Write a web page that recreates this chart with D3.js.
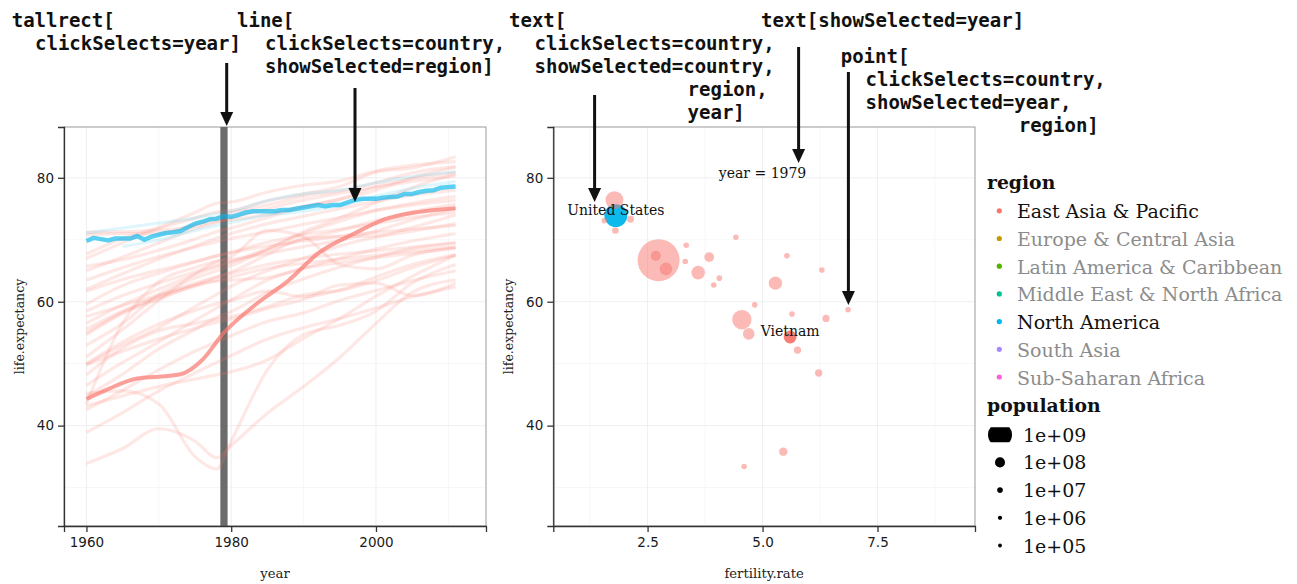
<!DOCTYPE html>
<html>
<head>
<meta charset="utf-8">
<script src="https://cdn.jsdelivr.net/npm/d3@7"></script>
<style>
body { margin: 0; background: #fff; }
svg { display: block; }
</style>
</head>
<body>
<script>
// ---- data ----
var regions = ["East Asia & Pacific", "Europe & Central Asia", "Latin America & Caribbean",
  "Middle East & North Africa", "North America", "South Asia", "Sub-Saharan Africa"];
var regionColors = ["#F8766D", "#C49A00", "#53B400", "#00C094", "#00B6EB", "#A58AFF", "#FB61D7"];
var selectedRegions = ["East Asia & Pacific", "North America"];

var yearTicks = [1960, 1980, 2000];
var yearMinor = [1970, 1990, 2010];
var lifeTicks = [40, 60, 80];
var lifeMinor = [30, 50, 70];
var fertTicks = [2.5, 5.0, 7.5];
var fertMinor = [1.25, 3.75, 6.25, 8.75];
var popBreaks = [1e9, 1e8, 1e7, 1e6, 1e5];
var popLabels = ["1e+09", "1e+08", "1e+07", "1e+06", "1e+05"];

var selectedYear = 1979;

// background lines, life expectancy at sampled years
var sampleYears = [1960, 1965, 1970, 1975, 1978, 1980, 1985, 1990, 1995, 2000, 2005, 2011];
var lineCountries = ["Hong Kong", "Japan", "Australia", "New Zealand", "Macao", "Singapore",
  "Korea, Rep.", "Brunei", "Guam", "New Caledonia", "French Polynesia", "China", "Malaysia",
  "Thailand", "Samoa", "Tonga", "Fiji", "Vanuatu", "Indonesia", "Philippines", "Mongolia",
  "Micronesia", "Solomon Islands", "Kiribati", "Myanmar", "Lao PDR", "Papua New Guinea",
  "Korea, Dem. Rep.", "Cambodia", "Timor-Leste", "Canada", "Bermuda"];
var lineRegions = lineCountries.map(function(c) {
  return (c == "Canada" || c == "Bermuda") ? "North America" : "East Asia & Pacific";
});
var lineLife = [
  [67.0, 69.5, 71.8, 73.5, 74.5, 74.7, 76.3, 77.4, 78.6, 80.9, 81.6, 83.4],
  [67.7, 70.2, 72.0, 74.4, 75.9, 76.1, 77.7, 78.8, 79.5, 81.1, 82.0, 82.6],
  [70.8, 71.0, 71.0, 72.5, 73.6, 74.3, 75.6, 77.0, 77.9, 79.2, 80.8, 81.8],
  [71.2, 71.3, 71.5, 72.2, 73.0, 73.2, 74.1, 75.4, 76.6, 78.6, 79.8, 80.9],
  [65.0, 67.2, 69.5, 71.8, 72.8, 73.5, 75.0, 76.4, 77.5, 78.5, 79.4, 80.3],
  [65.7, 66.8, 68.3, 70.1, 71.3, 71.9, 73.6, 75.3, 76.5, 78.0, 80.0, 81.7],
  [53.0, 56.5, 61.2, 63.8, 65.0, 65.8, 68.4, 71.3, 73.5, 76.0, 78.4, 80.6],
  [62.0, 64.5, 66.9, 69.0, 70.3, 71.0, 72.6, 73.8, 75.0, 76.2, 77.2, 78.0],
  [63.5, 65.5, 67.3, 68.8, 69.7, 70.2, 71.3, 72.5, 73.6, 74.8, 75.9, 77.0],
  [58.5, 61.0, 63.0, 64.8, 65.9, 66.5, 68.6, 71.0, 73.0, 74.7, 75.6, 76.4],
  [56.5, 59.5, 62.0, 64.4, 65.6, 66.3, 68.3, 70.1, 71.5, 73.1, 74.5, 75.7],
  [43.5, 56.6, 63.2, 65.5, 66.5, 66.8, 67.8, 68.9, 69.9, 71.4, 73.2, 75.0],
  [59.6, 62.6, 64.6, 66.4, 67.4, 68.0, 69.6, 70.8, 71.7, 72.6, 73.6, 74.4],
  [54.7, 58.1, 60.4, 62.7, 64.0, 64.8, 67.6, 70.2, 70.5, 70.6, 72.0, 74.0],
  [49.9, 53.0, 55.8, 59.2, 61.2, 62.5, 65.0, 67.0, 69.0, 70.4, 71.4, 72.6],
  [61.7, 63.6, 65.1, 66.5, 67.4, 67.9, 69.0, 69.8, 70.6, 71.2, 71.7, 72.3],
  [55.6, 58.5, 60.9, 63.0, 64.0, 64.6, 66.0, 67.0, 67.7, 68.2, 68.8, 69.4],
  [46.5, 50.2, 53.5, 57.0, 59.0, 60.3, 63.5, 65.4, 67.0, 68.5, 69.8, 71.0],
  [44.7, 48.3, 52.4, 55.5, 57.5, 58.4, 61.5, 63.7, 65.6, 67.2, 68.6, 69.6],
  [57.6, 59.4, 61.1, 62.7, 63.3, 63.5, 63.9, 65.4, 66.3, 67.1, 67.8, 68.6],
  [48.2, 52.5, 55.3, 56.5, 57.2, 57.6, 59.2, 61.1, 61.8, 63.4, 65.5, 67.5],
  [55.0, 58.3, 60.7, 62.5, 63.5, 64.0, 65.4, 66.2, 66.9, 67.5, 68.2, 68.8],
  [50.0, 53.5, 56.4, 58.6, 59.7, 60.2, 61.7, 60.8, 61.9, 64.0, 66.0, 67.6],
  [49.8, 52.0, 54.0, 55.7, 56.7, 57.2, 58.9, 60.4, 62.7, 63.0, 61.0, 63.0],
  [42.6, 45.7, 49.0, 52.0, 53.5, 54.5, 56.8, 58.2, 60.2, 61.8, 63.4, 65.0],
  [43.2, 44.8, 46.3, 47.5, 48.2, 48.7, 50.6, 54.1, 57.3, 60.9, 64.1, 67.5],
  [38.9, 42.1, 45.6, 48.5, 50.2, 51.3, 54.0, 55.8, 57.3, 59.0, 60.8, 62.4],
  [51.1, 55.5, 60.2, 64.5, 66.5, 67.3, 71.5, 70.5, 66.0, 65.3, 67.5, 68.8],
  [45.2, 45.6, 43.5, 35.0, 33.0, 37.5, 49.0, 54.7, 56.2, 58.5, 63.0, 66.0],
  [33.9, 36.3, 39.5, 37.5, 34.8, 36.8, 42.0, 46.3, 51.0, 56.5, 61.5, 63.5],
  [71.1, 71.9, 72.7, 73.5, 74.2, 74.6, 76.3, 77.4, 78.0, 79.2, 80.2, 81.0],
  [null, 68.9, 70.0, 71.5, 72.3, 72.8, 74.0, 74.6, 75.5, 77.0, 78.3, 79.4]
];

// selected countries
var usLife = [69.8, 70.3, 70.1, 69.9, 70.2, 70.2, 70.2, 70.6, 70.0, 70.5,
  70.8, 71.1, 71.2, 71.4, 72.0, 72.6, 72.9, 73.3, 73.4, 73.8,
  73.7, 74.0, 74.4, 74.6, 74.6, 74.6, 74.6, 74.8, 74.8, 75.0,
  75.2, 75.4, 75.6, 75.4, 75.6, 75.6, 76.0, 76.4, 76.6, 76.6,
  76.6, 76.8, 76.9, 77.0, 77.4, 77.4, 77.7, 77.9, 78.0, 78.4,
  78.5, 78.6];
var vnYears = [1960, 1963, 1967, 1970, 1973, 1976, 1979, 1983, 1988, 1992, 1997, 2001, 2006, 2011];
var vnLife = [44.3, 45.9, 47.6, 47.9, 48.3, 50.6, 55.0, 59.2, 63.5, 67.8, 71.0, 73.2, 74.5, 75.1];

// scatter, year 1979
var ptCountry = ["Japan", "United States", "Macao", "Singapore", "Hong Kong", "China",
  "Korea, Dem. Rep.", "Korea, Rep.", "Fiji", "Guam", "Thailand", "Malaysia", "New Caledonia",
  "Tonga", "Brunei", "Philippines", "French Polynesia", "Micronesia", "Samoa", "Indonesia",
  "Myanmar", "Vanuatu", "Mongolia", "Solomon Islands", "Vietnam", "Papua New Guinea",
  "Lao PDR", "Cambodia", "Timor-Leste"];
var ptFert = [1.78, 1.81, 1.56, 2.13, 1.80, 2.74, 2.68, 2.90, 3.34, 3.32, 3.60, 3.84, 4.06,
  3.94, 4.42, 5.28, 5.53, 6.29, 4.83, 4.55, 4.70, 5.64, 6.38, 6.86, 5.60, 5.76, 6.22, 5.45, 4.60];
var ptLife = [76.4, 73.9, 73.1, 73.3, 71.5, 66.7, 67.4, 65.3, 69.1, 66.5, 64.7, 67.2, 63.8,
  62.7, 70.4, 63.0, 67.4, 65.1, 59.5, 57.1, 54.8, 58.0, 57.3, 58.7, 54.3, 52.2, 48.5, 35.8, 33.4];
var ptPop = [116e6, 225e6, 0.15e6, 2.3e6, 1.4e6, 969e6, 16.5e6, 39e6, 0.1e6, 0.1e6, 50e6, 15e6,
  0.15e6, 0.1e6, 0.1e6, 48e6, 0.1e6, 0.1e6, 0.15e6, 144e6, 30e6, 0.1e6, 3e6, 0.05e6, 42e6,
  3.2e6, 3.2e6, 7.5e6, 0.1e6];
var selectedCountries = ["United States", "Vietnam"];

// ---- drawing ----
var W = 1297, H = 584;
var sans = "DejaVu Sans", serif = "DejaVu Serif", mono = "DejaVu Sans Mono";
var color = d3.scaleOrdinal().domain(regions).range(regionColors);

var svg = d3.select("body").append("svg")
  .attr("width", W)
  .attr("height", H);

var plotTop = 127, plotBottom = 526;
var y = d3.scaleLinear().domain([23.8, 88.2]).range([plotBottom, plotTop]);
var xYear = d3.scaleLinear().domain([1956.9, 2015.2]).range([64, 486]);
var xFert = d3.scaleLinear().domain([0.45, 9.62]).range([553.3, 975]);
var size = d3.scaleSqrt().domain([0, 1e9]).range([2.6, 21.3]);
var keySize = d3.scaleSqrt().domain([0, 1e9]).range([1.8, 12]);

function panel(x, xTicks, xMinor) {
  var g = svg.append("g");
  var x0 = x.range()[0], x1 = x.range()[1];
  // grid
  g.selectAll(".minv").data(xMinor).enter().append("line")
    .attr("x1", x).attr("x2", x).attr("y1", plotTop).attr("y2", plotBottom)
    .attr("stroke", "#f7f7f7");
  g.selectAll(".minh").data(lifeMinor).enter().append("line")
    .attr("x1", x0).attr("x2", x1).attr("y1", y).attr("y2", y)
    .attr("stroke", "#f7f7f7");
  g.selectAll(".majv").data(xTicks).enter().append("line")
    .attr("x1", x).attr("x2", x).attr("y1", plotTop).attr("y2", plotBottom)
    .attr("stroke", "#efefef");
  g.selectAll(".majh").data(lifeTicks).enter().append("line")
    .attr("x1", x0).attr("x2", x1).attr("y1", y).attr("y2", y)
    .attr("stroke", "#efefef");
  g.append("rect")
    .attr("x", x0).attr("y", plotTop).attr("width", x1 - x0).attr("height", plotBottom - plotTop)
    .attr("fill", "none").attr("stroke", "#9a9a9a").attr("stroke-width", 1);
  return g;
}

function axes(x, xTicks, xFmt, xTitle) {
  var x0 = x.range()[0], x1 = x.range()[1];
  var ax = svg.append("g").attr("transform", "translate(0," + plotBottom + ")")
    .call(d3.axisBottom(x).tickValues(xTicks).tickFormat(xFmt).tickSize(6).tickPadding(5));
  var ay = svg.append("g").attr("transform", "translate(" + x0 + ",0)")
    .call(d3.axisLeft(y).tickValues(lifeTicks).tickSize(6).tickPadding(4));
  [ax, ay].forEach(function(a) {
    a.attr("font-size", null).attr("font-family", null);
    a.selectAll("path, line").attr("stroke", "#333").attr("stroke-width", 1.3);
    a.selectAll("text").style("font-family", sans).style("font-size", "13.5px").attr("fill", "#1a1a1a");
  });
  svg.append("text")
    .attr("x", (x0 + x1) / 2).attr("y", 578)
    .attr("text-anchor", "middle")
    .attr("font-family", serif).attr("font-size", 13.2).attr("fill", "#222")
    .text(xTitle);
  svg.append("text")
    .attr("transform", "translate(" + (x0 - 40) + "," + ((plotTop + plotBottom) / 2) + ") rotate(-90)")
    .attr("text-anchor", "middle")
    .attr("font-family", serif).attr("font-size", 12.5).attr("fill", "#222")
    .text("life.expectancy");
}

// left panel: year vs life expectancy
var left = panel(xYear, yearTicks, yearMinor);

left.append("rect")
  .attr("x", xYear(selectedYear - 0.5))
  .attr("y", plotTop)
  .attr("width", xYear(selectedYear + 0.5) - xYear(selectedYear - 0.5))
  .attr("height", plotBottom - plotTop)
  .attr("fill", "#6b6b6b");

var line = d3.line()
  .defined(function(d) { return d[1] != null; })
  .x(function(d) { return xYear(d[0]); })
  .y(function(d) { return y(d[1]); })
  .curve(d3.curveMonotoneX);

left.selectAll(".bg")
  .data(lineLife)
  .enter()
  .append("path")
  .attr("d", function(vals) {
    return line(vals.map(function(v, i) { return [sampleYears[i], v]; }));
  })
  .attr("fill", "none")
  .attr("stroke", function(d, i) { return color(lineRegions[i]); })
  .attr("stroke-opacity", function(d, i) { return lineRegions[i] == "North America" ? 0.13 : 0.17; })
  .attr("stroke-width", 3.2)
  .attr("stroke-linejoin", "round");

left.append("path")
  .attr("d", line(vnLife.map(function(v, i) { return [vnYears[i], v]; })))
  .attr("fill", "none")
  .attr("stroke", color("East Asia & Pacific"))
  .attr("stroke-opacity", 0.7)
  .attr("stroke-width", 4);

left.append("path")
  .attr("d", d3.line()
    .x(function(d, i) { return xYear(1960 + i); })
    .y(function(d) { return y(d); })(usLife))
  .attr("fill", "none")
  .attr("stroke", color("North America"))
  .attr("stroke-opacity", 0.65)
  .attr("stroke-width", 4.5)
  .attr("stroke-linejoin", "round");

axes(xYear, yearTicks, d3.format("d"), "year");

// right panel: fertility vs life expectancy
var right = panel(xFert, fertTicks, fertMinor);

var pts = ptCountry.map(function(c, i) {
  return { country: c, fert: ptFert[i], life: ptLife[i], pop: ptPop[i],
    region: c == "United States" ? "North America" : "East Asia & Pacific" };
}).sort(function(a, b) { return b.pop - a.pop; });

right.selectAll("circle")
  .data(pts)
  .enter()
  .append("circle")
  .attr("cx", function(d) { return xFert(d.fert); })
  .attr("cy", function(d) { return y(d.life); })
  .attr("r", function(d) { return size(d.pop); })
  .attr("fill", function(d) { return color(d.region); })
  .attr("fill-opacity", function(d) {
    return selectedCountries.indexOf(d.country) >= 0 ? 0.95 : 0.5;
  });

right.selectAll(".lab")
  .data(pts.filter(function(d) { return selectedCountries.indexOf(d.country) >= 0; }))
  .enter()
  .append("text")
  .attr("x", function(d) { return xFert(d.fert); })
  .attr("y", function(d) { return y(d.life) - 1; })
  .attr("text-anchor", "middle")
  .attr("font-family", serif).attr("font-size", 14).attr("fill", "#111")
  .text(function(d) { return d.country; });

right.append("text")
  .attr("x", xFert(5))
  .attr("y", y(80))
  .attr("text-anchor", "middle")
  .attr("font-family", serif).attr("font-size", 14).attr("fill", "#111")
  .text("year = " + selectedYear);

axes(xFert, fertTicks, d3.format(".1f"), "fertility.rate");

// legend
var lg = svg.append("g").attr("transform", "translate(987,0)");
lg.append("text").attr("x", 0).attr("y", 189)
  .attr("font-family", serif).attr("font-weight", "bold").attr("font-size", 18.8).attr("fill", "#111")
  .text("region");
var rows = lg.selectAll(".reg").data(regions).enter().append("g")
  .attr("transform", function(d, i) { return "translate(0," + (218.3 + i * 27.7) + ")"; });
rows.append("circle").attr("cx", 12.3).attr("cy", -7.5).attr("r", 2.6)
  .attr("fill", function(d) { return color(d); });
rows.append("text").attr("x", 30).attr("y", 0)
  .attr("font-family", serif).attr("font-size", 19)
  .attr("fill", function(d) { return selectedRegions.indexOf(d) >= 0 ? "#111" : "#8c8c8c"; })
  .text(function(d) { return d; });

lg.append("text").attr("x", 0).attr("y", 412)
  .attr("font-family", serif).attr("font-weight", "bold").attr("font-size", 18.8).attr("fill", "#111")
  .text("population");
svg.append("clipPath").attr("id", "keyclip").append("rect")
  .attr("x", -14).attr("y", -7.5).attr("width", 28).attr("height", 15);
var srows = lg.selectAll(".pop").data(popBreaks).enter().append("g")
  .attr("transform", function(d, i) { return "translate(0," + (441.7 + i * 27.7) + ")"; });
srows.append("g").attr("transform", "translate(13,-7)")
  .append("circle").attr("r", function(d) { return keySize(d); })
  .attr("clip-path", "url(#keyclip)")
  .attr("fill", "#000");
srows.append("text").attr("x", 36).attr("y", 0)
  .attr("font-family", serif).attr("font-size", 19).attr("fill", "#111")
  .text(function(d, i) { return popLabels[i]; });

// annotations
var notes = [
  ["tallrect[", 11.7, 27], ["clickSelects=year]", 35, 50],
  ["line[", 237, 27], ["clickSelects=country,", 265, 50], ["showSelected=region]", 265, 73],
  ["text[", 509, 27], ["clickSelects=country,", 534.5, 50], ["showSelected=country,", 534.5, 73],
  ["region,", 687.6, 96], ["year]", 687.6, 119],
  ["text[showSelected=year]", 761, 27],
  ["point[", 840.7, 63], ["clickSelects=country,", 865.6, 86], ["showSelected=year,", 865.6, 109],
  ["region]", 1018.7, 132]
];
svg.selectAll(".note").data(notes).enter().append("text")
  .attr("x", function(d) { return d[1]; })
  .attr("y", function(d) { return d[2]; })
  .attr("font-family", mono).attr("font-weight", "bold").attr("font-size", 19).attr("fill", "#111")
  .text(function(d) { return d[0]; });

var arrows = [[226.7, 63, 126], [355, 88, 202], [594.6, 95, 202], [798.6, 47, 163], [848.4, 72, 305]];
arrows.forEach(function(a) {
  svg.append("line").attr("x1", a[0]).attr("x2", a[0]).attr("y1", a[1]).attr("y2", a[2] - 10)
    .attr("stroke", "#111").attr("stroke-width", 3);
  svg.append("path")
    .attr("d", "M" + (a[0] - 6.5) + "," + (a[2] - 14) + "L" + (a[0] + 6.5) + "," + (a[2] - 14) + "L" + a[0] + "," + a[2] + "Z")
    .attr("fill", "#111");
});
</script>
</body>
</html>
